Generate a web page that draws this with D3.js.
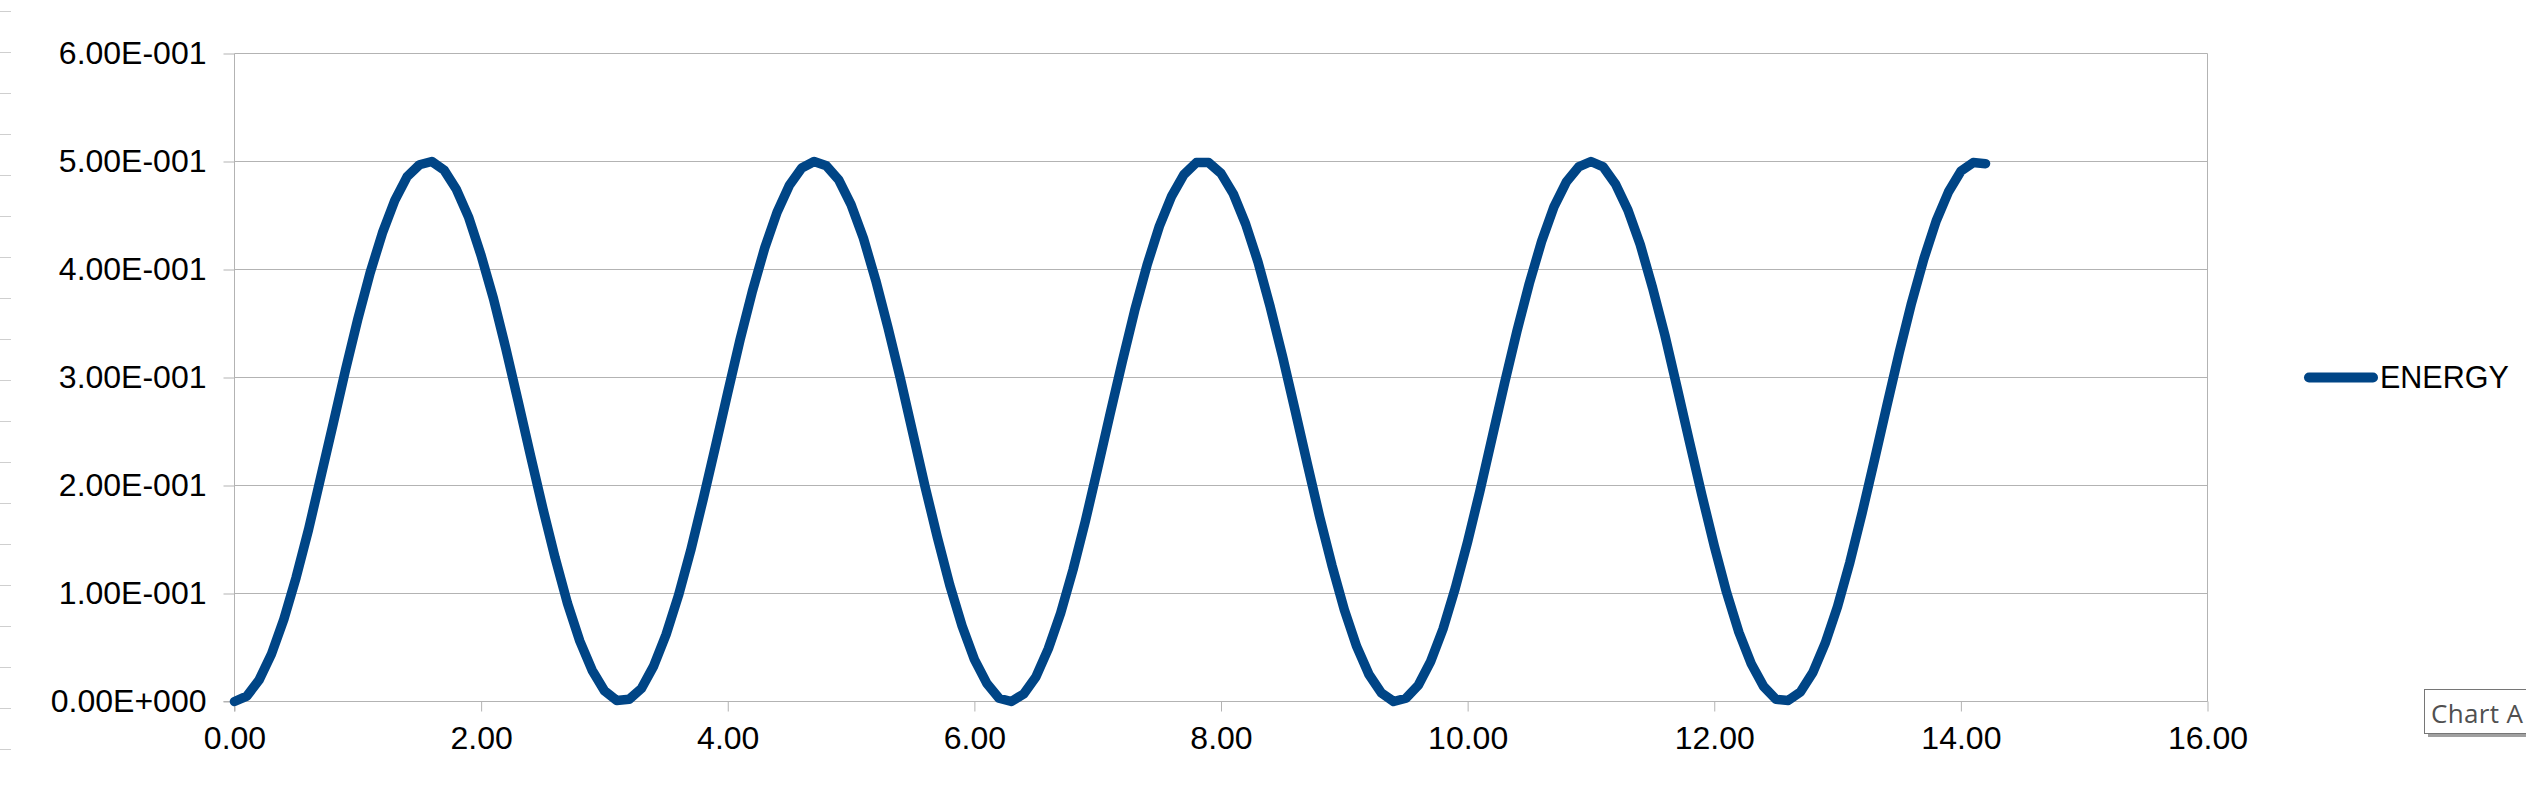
<!DOCTYPE html>
<html>
<head>
<meta charset="utf-8">
<script src="https://cdn.jsdelivr.net/npm/d3@7"></script>
<style>
  html, body { margin: 0; padding: 0; background: #ffffff; }
  svg { display: block; }
</style>
</head>
<body>
<div id="chart"></div>
<script>
const width = 2526;
const height = 785;

// series
const seriesName = "ENERGY";
const timeValues = [
  0.0, 0.1, 0.2, 0.3, 0.4, 0.5, 0.6, 0.7, 0.8, 0.9,
  1.0, 1.1, 1.2, 1.3, 1.4, 1.5, 1.6, 1.7, 1.8, 1.9,
  2.0, 2.1, 2.2, 2.3, 2.4, 2.5, 2.6, 2.7, 2.8, 2.9,
  3.0, 3.1, 3.2, 3.3, 3.4, 3.5, 3.6, 3.7, 3.8, 3.9,
  4.0, 4.1, 4.2, 4.3, 4.4, 4.5, 4.6, 4.7, 4.8, 4.9,
  5.0, 5.1, 5.2, 5.3, 5.4, 5.5, 5.6, 5.7, 5.8, 5.9,
  6.0, 6.1, 6.2, 6.3, 6.4, 6.5, 6.6, 6.7, 6.8, 6.9,
  7.0, 7.1, 7.2, 7.3, 7.4, 7.5, 7.6, 7.7, 7.8, 7.9,
  8.0, 8.1, 8.2, 8.3, 8.4, 8.5, 8.6, 8.7, 8.8, 8.9,
  9.0, 9.1, 9.2, 9.3, 9.4, 9.5, 9.6, 9.7, 9.8, 9.9,
  10.0, 10.1, 10.2, 10.3, 10.4, 10.5, 10.6, 10.7, 10.8, 10.9,
  11.0, 11.1, 11.2, 11.3, 11.4, 11.5, 11.6, 11.7, 11.8, 11.9,
  12.0, 12.1, 12.2, 12.3, 12.4, 12.5, 12.6, 12.7, 12.8, 12.9,
  13.0, 13.1, 13.2, 13.3, 13.4, 13.5, 13.6, 13.7, 13.8, 13.9,
  14.0, 14.1, 14.2
];
const energyValues = [
  0.000, 0.005, 0.020, 0.044, 0.076, 0.115, 0.159, 0.208, 0.257, 0.307,
  0.354, 0.397, 0.434, 0.464, 0.486, 0.497, 0.500, 0.492, 0.474, 0.448,
  0.413, 0.373, 0.327, 0.278, 0.228, 0.179, 0.133, 0.091, 0.056, 0.029,
  0.010, 0.001, 0.002, 0.012, 0.033, 0.062, 0.098, 0.140, 0.187, 0.236,
  0.286, 0.335, 0.380, 0.420, 0.453, 0.478, 0.494, 0.500, 0.496, 0.483,
  0.460, 0.429, 0.390, 0.346, 0.299, 0.249, 0.199, 0.152, 0.108, 0.070,
  0.039, 0.017, 0.003, 0.000, 0.007, 0.023, 0.049, 0.082, 0.122, 0.167,
  0.216, 0.266, 0.315, 0.362, 0.404, 0.440, 0.468, 0.488, 0.499, 0.499,
  0.489, 0.470, 0.442, 0.407, 0.365, 0.319, 0.270, 0.220, 0.171, 0.126,
  0.085, 0.051, 0.025, 0.008, 0.000, 0.003, 0.015, 0.037, 0.067, 0.105,
  0.148, 0.195, 0.245, 0.295, 0.343, 0.387, 0.426, 0.458, 0.481, 0.495,
  0.500, 0.495, 0.479, 0.455, 0.423, 0.383, 0.339, 0.290, 0.240, 0.191,
  0.144, 0.101, 0.064, 0.035, 0.014, 0.002, 0.001, 0.009, 0.027, 0.054,
  0.088, 0.129, 0.175, 0.224, 0.274, 0.323, 0.369, 0.410, 0.445, 0.472,
  0.491, 0.499, 0.498
];

// axis ticks
const xTicks = [0, 2, 4, 6, 8, 10, 12, 14, 16];
const yTicks = [0, 0.1, 0.2, 0.3, 0.4, 0.5, 0.6];

const lineColor = "#004586";
const gridColor = "#b3b3b3";
const font = "'Liberation Sans', Arial, sans-serif";

const svg = d3.select("#chart")
  .append("svg")
  .attr("width", width)
  .attr("height", height);

// little grey marks along the window's left edge
svg.append("g")
  .selectAll("line")
  .data(d3.range(19))
  .join("line")
  .attr("x1", 0)
  .attr("x2", 11)
  .attr("y1", i => 11.5 + i * 41)
  .attr("y2", i => 11.5 + i * 41)
  .attr("stroke", "#cfcfcf")
  .attr("stroke-width", 1);

const scaleX = d3.scaleLinear().domain([0, 16]).range([234.5, 2207.5]);
const scaleY = d3.scaleLinear().domain([0, 0.6]).range([701.5, 53.5]);

// horizontal grid lines
svg.append("g")
  .selectAll("line")
  .data(yTicks)
  .join("line")
  .attr("x1", scaleX(0))
  .attr("x2", scaleX(16))
  .attr("y1", d => scaleY(d))
  .attr("y2", d => scaleY(d))
  .attr("stroke", gridColor)
  .attr("stroke-width", 1);

// right border of the plot
svg.append("line")
  .attr("x1", scaleX(16)).attr("x2", scaleX(16))
  .attr("y1", scaleY(0.6)).attr("y2", scaleY(0))
  .attr("stroke", gridColor)
  .attr("stroke-width", 1);

// scientific labels like 5.00E-001
function sciFormat(d) {
  if (d === 0) return "0.00E+000";
  const parts = d.toExponential(2).split("e");
  const exp = parseInt(parts[1], 10);
  return parts[0] + "E" + (exp < 0 ? "-" : "+") + String(Math.abs(exp)).padStart(3, "0");
}

// y axis
const axisY = d3.axisLeft(scaleY)
  .tickValues(yTicks)
  .tickSize(11)
  .tickFormat(sciFormat);

const gY = svg.append("g")
  .attr("transform", `translate(${scaleX(0)}, 0)`)
  .call(axisY);

// x axis
const axisX = d3.axisBottom(scaleX)
  .tickValues(xTicks)
  .tickSize(10)
  .tickFormat(d3.format(".2f"));

const gX = svg.append("g")
  .attr("transform", `translate(0, ${scaleY(0)})`)
  .call(axisX);

[gX, gY].forEach(g => {
  g.select(".domain").remove();
  g.selectAll(".tick line").attr("stroke", gridColor).attr("stroke-width", 1);
  g.selectAll(".tick text")
    .attr("fill", "#000000")
    .style("font-family", font)
    .style("font-size", "32px");
});

gY.selectAll(".tick text").attr("dy", "0.3em").attr("x", -28);
gX.selectAll(".tick text").attr("dy", "0.71em").attr("y", 25);

// axis lines
svg.append("line")
  .attr("x1", scaleX(0)).attr("x2", scaleX(0))
  .attr("y1", scaleY(0.6)).attr("y2", scaleY(0) + 10)
  .attr("stroke", gridColor);
svg.append("line")
  .attr("x1", scaleX(0) - 11).attr("x2", scaleX(16))
  .attr("y1", scaleY(0)).attr("y2", scaleY(0))
  .attr("stroke", gridColor);

// the series
const dataLine = d3.line()
  .x((d, i) => scaleX(timeValues[i]))
  .y(d => scaleY(d));

svg.append("path")
  .attr("d", dataLine(energyValues))
  .attr("fill", "none")
  .attr("stroke", lineColor)
  .attr("stroke-width", 9.5)
  .attr("stroke-linejoin", "round")
  .attr("stroke-linecap", "round");

// legend
const legendY = scaleY(0.3);
const legend = svg.append("g");
legend.append("line")
  .attr("x1", 2309).attr("x2", 2373)
  .attr("y1", legendY).attr("y2", legendY)
  .attr("stroke", lineColor)
  .attr("stroke-width", 10)
  .attr("stroke-linecap", "round");
legend.append("text")
  .attr("x", 2380)
  .attr("y", legendY + 10)
  .attr("fill", "#000000")
  .style("font-family", font)
  .style("font-size", "30.5px")
  .text(seriesName);

// tooltip box peeking in at the bottom right
const tip = svg.append("g");
tip.append("rect")
  .attr("x", 2428).attr("y", 693)
  .attr("width", 120).attr("height", 44)
  .attr("fill", "#a0a0a0");
tip.append("rect")
  .attr("x", 2424.5).attr("y", 689.5)
  .attr("width", 120).attr("height", 44)
  .attr("fill", "#ffffff")
  .attr("stroke", "#767676")
  .attr("stroke-width", 1);
tip.append("text")
  .attr("x", 2431)
  .attr("y", 723)
  .attr("fill", "#505050")
  .attr("textLength", 92)
  .attr("lengthAdjust", "spacing")
  .style("font-family", "'Open Sans', 'Noto Sans', sans-serif")
  .style("font-size", "26px")
  .text("Chart A");
</script>
</body>
</html>
